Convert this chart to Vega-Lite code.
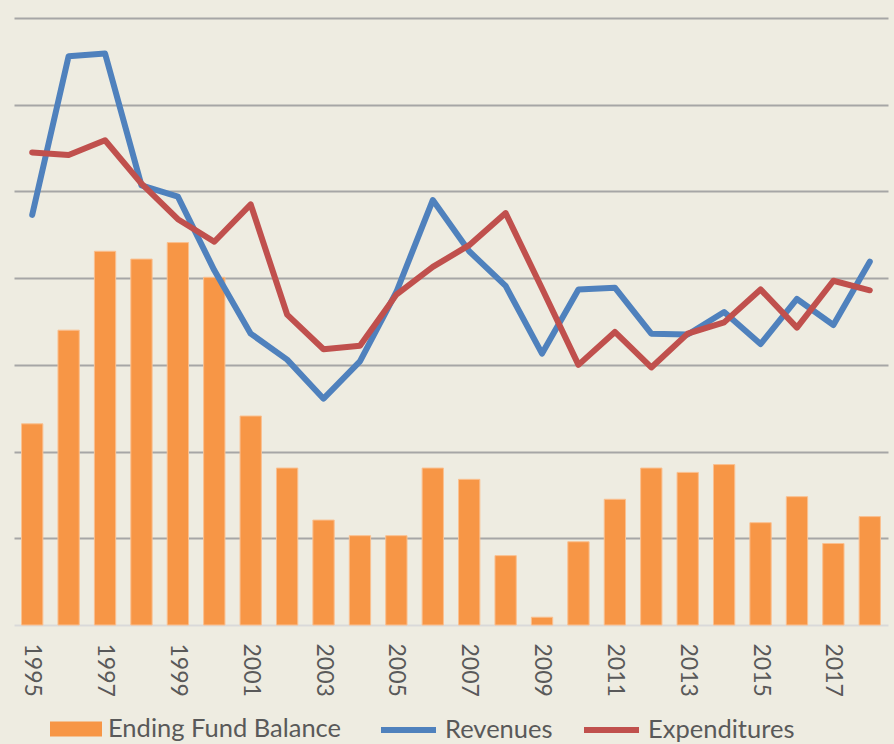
{
  "$schema": "https://vega.github.io/schema/vega-lite/v6.json",
  "width": 874,
  "height": 607,
  "autosize": "none",
  "padding": {"left": 14, "top": 18, "right": 6, "bottom": 119},
  "background": "#EEECE1",
  "config": {
    "view": {"stroke": null},
    "font": "Lato",
    "axis": {"labelFont": "Lato", "labelColor": "#595959"},
    "legend": {"labelFont": "Lato", "labelColor": "#595959"}
  },
  "data": {
    "values": [
      {"year": 1995, "balance": 2.32, "revenues": 4.73, "expenditures": 5.45},
      {"year": 1996, "balance": 3.40, "revenues": 6.56, "expenditures": 5.42},
      {"year": 1997, "balance": 4.31, "revenues": 6.59, "expenditures": 5.59},
      {"year": 1998, "balance": 4.22, "revenues": 5.07, "expenditures": 5.09},
      {"year": 1999, "balance": 4.41, "revenues": 4.94, "expenditures": 4.68},
      {"year": 2000, "balance": 4.01, "revenues": 4.09, "expenditures": 4.42},
      {"year": 2001, "balance": 2.41, "revenues": 3.36, "expenditures": 4.85},
      {"year": 2002, "balance": 1.81, "revenues": 3.06, "expenditures": 3.58},
      {"year": 2003, "balance": 1.21, "revenues": 2.61, "expenditures": 3.18},
      {"year": 2004, "balance": 1.03, "revenues": 3.04, "expenditures": 3.22},
      {"year": 2005, "balance": 1.03, "revenues": 3.84, "expenditures": 3.81},
      {"year": 2006, "balance": 1.81, "revenues": 4.90, "expenditures": 4.13},
      {"year": 2007, "balance": 1.68, "revenues": 4.31, "expenditures": 4.38},
      {"year": 2008, "balance": 0.80, "revenues": 3.91, "expenditures": 4.75},
      {"year": 2009, "balance": 0.09, "revenues": 3.13, "expenditures": 3.88},
      {"year": 2010, "balance": 0.96, "revenues": 3.87, "expenditures": 3.00},
      {"year": 2011, "balance": 1.45, "revenues": 3.89, "expenditures": 3.38},
      {"year": 2012, "balance": 1.81, "revenues": 3.36, "expenditures": 2.97},
      {"year": 2013, "balance": 1.76, "revenues": 3.35, "expenditures": 3.36},
      {"year": 2014, "balance": 1.85, "revenues": 3.61, "expenditures": 3.49},
      {"year": 2015, "balance": 1.18, "revenues": 3.24, "expenditures": 3.87},
      {"year": 2016, "balance": 1.48, "revenues": 3.76, "expenditures": 3.43},
      {"year": 2017, "balance": 0.94, "revenues": 3.46, "expenditures": 3.97},
      {"year": 2018, "balance": 1.25, "revenues": 4.19, "expenditures": 3.86}
    ]
  },
  "encoding": {
    "x": {
      "field": "year",
      "type": "ordinal",
      "scale": {"paddingInner": 0.415, "paddingOuter": 0.2075},
      "axis": {
        "title": null,
        "values": [1995, 1997, 1999, 2001, 2003, 2005, 2007, 2009, 2011, 2013, 2015, 2017],
        "labelAngle": 90,
        "labelAlign": "left",
        "labelBaseline": "middle",
        "labelFontSize": 23,
        "labelPadding": 18,
        "ticks": false,
        "domainColor": "#D9D9D9",
        "domainWidth": 2,
        "grid": false
      }
    }
  },
  "layer": [
    {
      "mark": {"type": "bar", "stroke": "#FAC090", "strokeWidth": 1},
      "encoding": {
        "y": {
          "field": "balance",
          "type": "quantitative",
          "scale": {"domain": [0, 7], "nice": false, "zero": true},
          "axis": {
            "title": null,
            "labels": false,
            "ticks": false,
            "domain": false,
            "values": [1, 2, 3, 4, 5, 6, 7],
            "gridColor": "#A6A6A6",
            "gridWidth": 2
          }
        },
        "fill": {
          "datum": "Ending Fund Balance",
          "scale": {"domain": ["Ending Fund Balance"], "range": ["#F79646"]},
          "legend": {
            "title": null,
            "orient": "none",
            "legendX": 36,
            "legendY": 685,
            "direction": "horizontal",
            "symbolType": "M-1,-0.29L1,-0.29L1,0.29L-1,0.29Z",
            "symbolSize": 2704,
            "symbolStrokeWidth": 0,
            "labelFontSize": 25.5,
            "labelLimit": 0,
            "labelOffset": 6
          }
        }
      }
    },
    {
      "mark": {"type": "line", "strokeWidth": 6, "strokeCap": "round", "strokeJoin": "round"},
      "encoding": {
        "y": {"field": "revenues", "type": "quantitative"},
        "stroke": {
          "datum": "Revenues",
          "scale": {"domain": ["Revenues", "Expenditures"], "range": ["#4F81BD", "#C0504D"]},
          "legend": {
            "title": null,
            "orient": "none",
            "legendX": 364,
            "legendY": 681.5,
            "direction": "horizontal",
            "symbolType": "stroke",
            "symbolSize": 3025,
            "symbolStrokeWidth": 6,
            "labelFontSize": 25.5,
            "labelLimit": 0,
            "labelOffset": 6,
            "columnPadding": 19
          }
        }
      }
    },
    {
      "mark": {"type": "line", "strokeWidth": 6, "strokeCap": "round", "strokeJoin": "round"},
      "encoding": {
        "y": {"field": "expenditures", "type": "quantitative"},
        "stroke": {"datum": "Expenditures"}
      }
    }
  ]
}
